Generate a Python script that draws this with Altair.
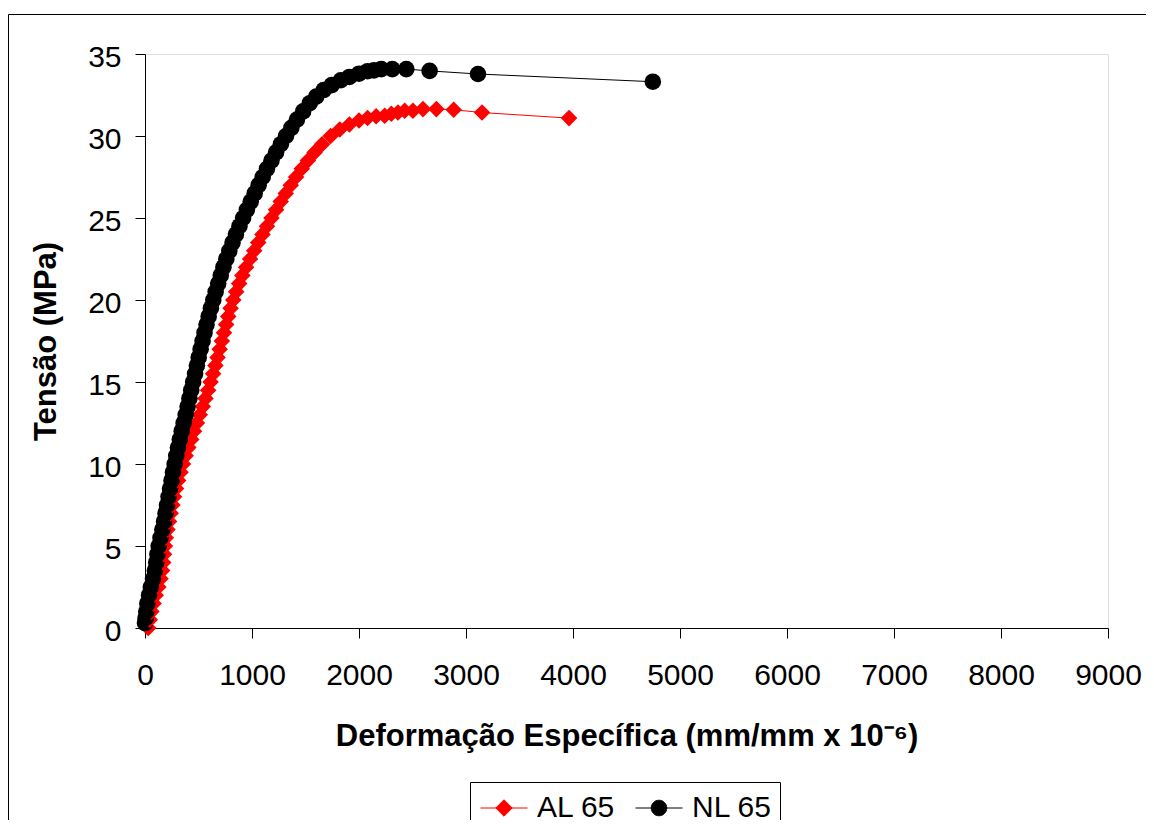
import altair as alt
import pandas as pd

# ---------------- data ----------------
series_names = ["AL 65", "NL 65"]
series_colors = ["#ff0000", "#000000"]
series_shapes = ["diamond", "circle"]
x_ticks = [0, 1000, 2000, 3000, 4000, 5000, 6000, 7000, 8000, 9000]
y_ticks = [0, 5, 10, 15, 20, 25, 30, 35]

al_strain = [30, 45, 60, 80, 100, 125, 145, 160, 170, 178, 186, 195, 210, 225, 240, 256,
             272, 290, 310, 332, 355, 380, 405, 432, 458, 485, 512, 540, 565, 590, 613,
             637, 658, 678, 698, 718, 738, 758, 778, 800, 825, 852, 880, 910, 945, 982,
             1020, 1058, 1098, 1140, 1182, 1225, 1268, 1315, 1362, 1412, 1465, 1522, 1585,
             1655, 1735, 1820, 1910, 2000, 2080, 2160, 2240, 2302, 2364, 2427, 2504, 2598,
             2723, 2885, 3150, 3963]
al_stress = [0.0, 0.5, 1.0, 1.5, 2.0, 2.5, 3.0, 3.5, 4.0, 4.5, 5.0, 5.5, 6.0, 6.5, 7.0, 7.5,
             8.0, 8.5, 9.0, 9.5, 10.0, 10.5, 11.0, 11.5, 12.0, 12.5, 13.0, 13.5, 14.0, 14.5, 15.0,
             15.5, 16.0, 16.5, 17.0, 17.5, 18.0, 18.5, 19.0, 19.5, 20.0, 20.5, 21.0, 21.5, 22.0, 22.5,
             23.0, 23.5, 24.0, 24.5, 25.0, 25.5, 26.0, 26.5, 27.0, 27.5, 28.0, 28.5, 29.0,
             29.5, 30.0, 30.4, 30.7, 30.95, 31.1, 31.2, 31.23, 31.36, 31.43, 31.54, 31.54, 31.64,
             31.64, 31.6, 31.43, 31.09]

nl_strain = [0, 5, 12, 22, 38, 55, 75, 92, 105, 116, 128, 145, 162, 178, 192, 206, 220, 234,
             248, 262, 277, 292, 308, 325, 343, 361, 380, 398, 415, 432, 450, 468, 485, 502,
             520, 538, 556, 575, 595, 616, 638, 660, 684, 708, 733, 760, 788, 818, 850, 883,
             917, 952, 988, 1025, 1062, 1100, 1140, 1182, 1225, 1270, 1318, 1368, 1420, 1478,
             1540, 1600, 1670, 1745, 1830, 1910, 2000, 2080, 2140, 2208, 2311, 2442, 2660,
             3112, 4746]
nl_stress = [0.3, 0.6, 1.0, 1.5, 2.0, 2.5, 3.0, 3.5, 4.0, 4.5, 5.0, 5.5, 6.0, 6.5, 7.0, 7.5, 8.0, 8.5,
             9.0, 9.5, 10.0, 10.5, 11.0, 11.5, 12.0, 12.5, 13.0, 13.5, 14.0, 14.5, 15.0, 15.5, 16.0, 16.5,
             17.0, 17.5, 18.0, 18.5, 19.0, 19.5, 20.0, 20.5, 21.0, 21.5, 22.0, 22.5, 23.0, 23.5, 24.0, 24.5,
             25.0, 25.5, 26.0, 26.5, 27.0, 27.5, 28.0, 28.5, 29.0, 29.5, 30.0, 30.5, 31.0, 31.5,
             32.0, 32.4, 32.8, 33.1, 33.4, 33.6, 33.8, 33.95, 34.0, 34.08, 34.08, 34.08, 33.97,
             33.78, 33.31]

rows = []
for name, xs, ys in ((series_names[0], al_strain, al_stress),
                     (series_names[1], nl_strain, nl_stress)):
    for i, (xv, yv) in enumerate(zip(xs, ys)):
        rows.append({"serie": name, "idx": i, "deform": xv, "tensao": yv})
df = pd.DataFrame(rows)

FONT = "Liberation Sans"

# legend symbols: a line through a marker (custom paths in the unit square)
PATH_DIAMOND = "M-1,0L1,0M-0.35,0L0,-0.35L0.35,0L0,0.35Z"
PATH_CIRCLE = "M-1,0L1,0M0.33,0A0.33,0.33,0,1,1,-0.33,0A0.33,0.33,0,1,1,0.33,0Z"

legend = alt.Legend(
    title=None, orient="none", legendX=335, legendY=730, direction="horizontal",
    symbolSize=2209, symbolStrokeWidth=1, symbolOpacity=1,
    labelFont=FONT, labelFontSize=30, labelColor="#000000", labelOffset=9,
    columnPadding=17, padding=0,
)

color_scale = alt.Scale(domain=series_names, range=series_colors)

x_enc = alt.X("deform:Q", scale=alt.Scale(domain=[0, 9000], nice=False, zero=False),
              axis=alt.Axis(values=x_ticks, format="d",
                            title="Deformação Específica (mm/mm x 10⁻⁶)",
                            grid=False, tickSize=10, tickColor="#000000", domainColor="#000000",
                            labelFont=FONT, labelFontSize=30, labelColor="#000000",
                            labelPadding=22, labelFlush=False, labelOverlap=False,
                            titleFont=FONT, titleFontSize=31, titleFontWeight="bold",
                            titleColor="#000000", titleX=481.5, titleY=117,
                            titleBaseline="alphabetic", titleAlign="center", titleAngle=0))
y_enc = alt.Y("tensao:Q", scale=alt.Scale(domain=[0, 35], nice=False),
              axis=alt.Axis(values=y_ticks, format="d", title="Tensão (MPa)",
                            grid=False, tickSize=10, tickColor="#000000", domainColor="#000000",
                            labelFont=FONT, labelFontSize=30, labelColor="#000000",
                            labelPadding=14, labelOffset=3, labelFlush=False, labelOverlap=False,
                            titleFont=FONT, titleFontSize=31, titleFontWeight="bold",
                            titleColor="#000000", titleX=-90, titleY=287,
                            titleBaseline="alphabetic", titleAlign="center", titleAngle=270))

base = alt.Chart(df)
lines = base.mark_line(strokeWidth=1).encode(
    x=x_enc, y=y_enc,
    color=alt.Color("serie:N", scale=color_scale, legend=None),
    detail="serie:N", order=alt.Order("idx:Q"))
points = base.mark_point(filled=True, opacity=1, size=275).encode(
    x=x_enc, y=y_enc,
    color=alt.Color("serie:N", scale=color_scale, legend=None),
    shape=alt.Shape("serie:N", scale=alt.Scale(domain=series_names, range=series_shapes), legend=None),
    order=alt.Order("idx:Q"))

# invisible layer that only carries the legend (line-through-marker symbols)
legend_layer = alt.Chart(pd.DataFrame({"serie": series_names})).mark_point(
    filled=True, opacity=0).encode(
    color=alt.Color("serie:N", scale=color_scale, legend=legend),
    stroke=alt.Stroke("serie:N", scale=color_scale, legend=legend),
    shape=alt.Shape("serie:N", scale=alt.Scale(domain=series_names,
                                               range=[PATH_DIAMOND, PATH_CIRCLE]), legend=legend),
)

one = pd.DataFrame({"k": [0]})
frame = alt.Chart(one).mark_rect(filled=False, stroke="#000000", strokeWidth=1).encode(
    x=alt.value(-136.5), x2=alt.value(1300), y=alt.value(-39.5), y2=alt.value(1000))
legend_box = alt.Chart(one).mark_rect(filled=False, stroke="#000000", strokeWidth=1).encode(
    x=alt.value(325.5), x2=alt.value(635.5), y=alt.value(728.5), y2=alt.value(1000))

chart = alt.layer(frame, legend_box, lines, points, legend_layer).resolve_scale(
    color="independent", shape="independent", stroke="independent"
).properties(
    width=963, height=574,
    padding={"left": 137, "top": 46, "right": 38, "bottom": 192},
    autosize=alt.AutoSizeParams(type="none"),
).configure_view(stroke="#808080", strokeWidth=1).configure(background="#ffffff")

chart.save("out.html", embed_options={"renderer": "svg", "actions": False})
